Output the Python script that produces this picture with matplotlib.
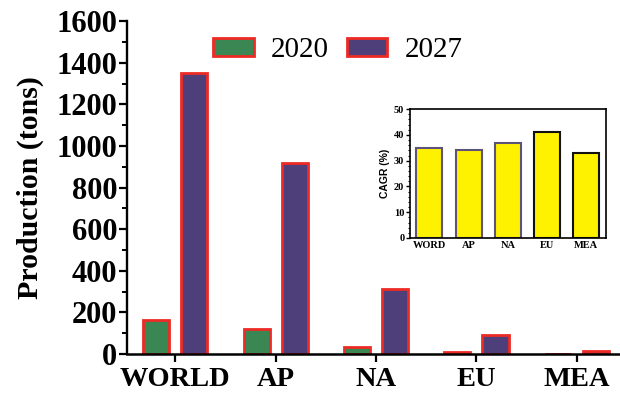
import numpy as np
import matplotlib.pyplot as plt
from matplotlib.ticker import MultipleLocator

regions = ["WORLD", "AP", "NA", "EU", "MEA"]
prod_2020 = [165, 120, 34, 8, 2]
prod_2027 = [1350, 918, 312, 91, 15]

cagr_labels = ["WORD", "AP", "NA", "EU", "MEA"]
cagr = [35, 34, 37, 41, 33]

serif = ["Liberation Serif", "DejaVu Serif"]
green = "#3a8753"
purple = "#4e3f7b"
red = "#ee2a24"

fig = plt.figure(figsize=(6.2, 3.94), dpi=100)
ax = fig.add_axes([0.205, 0.1015, 0.795, 0.845])

x = np.arange(len(regions))
w = 0.26
off = 0.19
b1 = ax.bar(x - off, prod_2020, w, color=green, edgecolor=red, linewidth=2, label="2020")
b2 = ax.bar(x + off, prod_2027, w, color=purple, edgecolor=red, linewidth=2, label="2027")

ax.set_xlim(-0.48, 4.43)
ax.set_ylim(0, 1600)
ax.yaxis.set_major_locator(MultipleLocator(200))
ax.yaxis.set_minor_locator(MultipleLocator(100))
ax.set_xticks(x)
ax.set_xticklabels(regions, fontfamily=serif, fontweight="bold", fontsize=20.5)
for lab in ax.get_yticklabels():
    lab.set_fontfamily(serif)
    lab.set_fontweight("bold")
    lab.set_fontsize(22)
ax.tick_params(axis="both", which="major", direction="out", length=6, width=1.6, pad=1)
ax.tick_params(axis="x", which="major", pad=3)
ax.tick_params(axis="y", which="minor", direction="out", length=3.5, width=1.4)
ax.spines["top"].set_visible(False)
ax.spines["right"].set_visible(False)
ax.spines["left"].set_linewidth(1.7)
ax.spines["bottom"].set_linewidth(1.8)
ax.set_ylabel("Production (tons)", fontfamily=serif, fontweight="bold", fontsize=21.5, labelpad=9)

ax.legend(handles=[b1, b2], loc="center", bbox_to_anchor=(0.545, 0.872),
          bbox_transform=fig.transFigure, ncol=2, frameon=False,
          prop={"family": serif, "size": 21}, handlelength=1.4, handleheight=0.55,
          handletextpad=0.6, columnspacing=0.6)

# CAGR inset
ins = fig.add_axes([0.661, 0.396, 0.316, 0.327])
ix = np.arange(len(cagr_labels))
edges = ["#5d5278", "#5d5278", "#5d5278", "#111111", "#111111"]
ins.bar(ix, cagr, 0.66, color="#fff200", edgecolor=edges, linewidth=1.5)
ins.set_xlim(-0.5, 4.5)
ins.set_ylim(0, 50)
ins.yaxis.set_major_locator(MultipleLocator(10))
ins.yaxis.set_minor_locator(MultipleLocator(2))
ins.set_xticks(ix)
ins.set_xticklabels(cagr_labels, fontfamily=serif, fontweight="bold", fontsize=7.5)
for lab in ins.get_yticklabels():
    lab.set_fontfamily(serif)
    lab.set_fontweight("bold")
    lab.set_fontsize(7.5)
ins.tick_params(axis="x", length=0, pad=2)
ins.tick_params(axis="y", which="major", length=3, width=1, pad=1)
ins.tick_params(axis="y", which="minor", length=1.5, width=0.8)
for s in ins.spines.values():
    s.set_linewidth(1.2)
ins.set_ylabel("CAGR (%)", fontfamily=["Liberation Sans", "DejaVu Sans"], fontweight="bold", fontsize=7.5, labelpad=3)

fig.savefig("out.png", dpi=100)
